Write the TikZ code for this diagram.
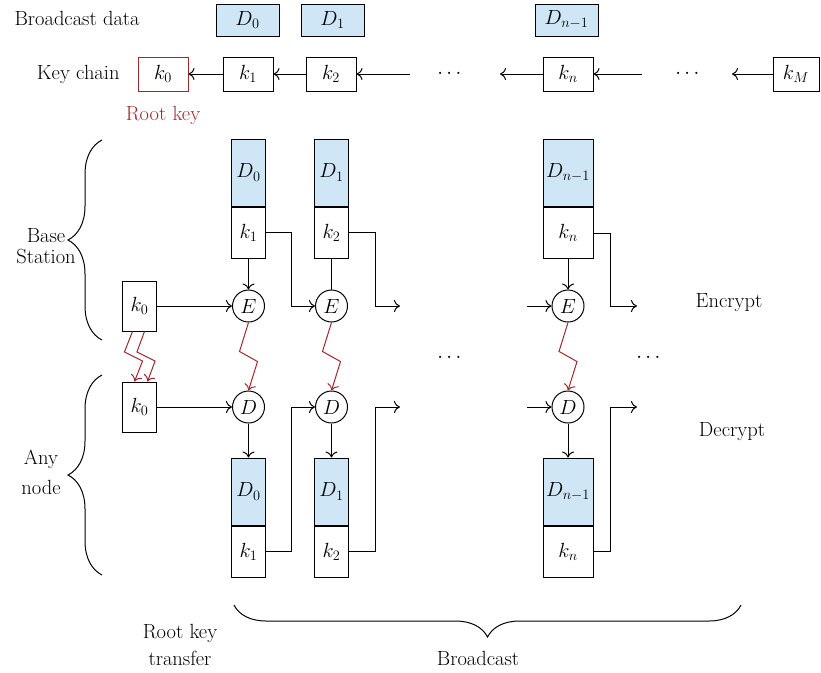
\RequirePackage{fix-cm}
\documentclass[tikz,border=0pt]{standalone}
\usepackage{amsmath,amssymb}
\usepackage{fontspec}
\usepackage{xcolor}
\definecolor{broadcastblue}{HTML}{CFE6F7}
\definecolor{rootkeyred}{HTML}{A0282D}
\usepackage{tikz}
\usetikzlibrary{%
      arrows.meta,%
      calc,%
      decorations.pathreplacing,%
  positioning%
  }
\tikzset{
  >={To[length=6pt,width=12pt]},
  wire/.style={line width=1pt},
  keybox/.style={draw, line width=1pt, minimum width=50pt, minimum height=34pt, inner sep=2pt},
  databox/.style={draw, line width=1pt, fill=broadcastblue, minimum width=63pt, minimum height=32pt, inner sep=2pt},
  stackdata/.style={draw, line width=1pt, fill=broadcastblue, minimum height=67pt, inner sep=1pt},
  stackkey/.style={draw, line width=1pt, minimum height=51pt, inner sep=1pt},
  cipher/.style={draw, circle, line width=1pt, minimum size=32pt, inner sep=0pt},
  bolt/.style={rootkeyred, line width=1pt, ->,
    to path={-- ($(\tikztostart)!.47!(\tikztotarget)+(-9,-3)$)
             -- ($(\tikztostart)!.53!(\tikztotarget)+(9,3)$) -- (\tikztotarget)}},
  curly/.style={decorate, line width=1pt, decoration={brace, amplitude=#1}},
}

\begin{document}
\begin{tikzpicture}[x=1pt, y=-1pt, font=\fontsize{20.5}{21}\selectfont]
    \useasboundingbox (0,0) rectangle (821,672);
    % data and key chain on top
    \node[anchor=west] (bcast) at (11,18) {Broadcast data};
    \node[databox] (data0) at (247.5,20) {$D_0$};
    \node[databox] (data1) at (332.5,20) {$D_1$};
    \node[databox] (datan) at (566.5,20) {$D_{n-1}$};

    \node[anchor=east] (chain) at (123,74) {Key chain};
    \node[keybox, draw=rootkeyred] (ck0) at (163,74) {$k_0$};
    \node[keybox] (ck1) at (248,74) {$k_1$};
    \node[keybox] (ck2) at (331,74) {$k_2$};
    \node[keybox] (ckn) at (568,74) {$k_n$};
    \node[keybox, minimum width=46pt] (ckM) at (796,74) {$k_M$};
    \node (cdots1) at (451,74) {$\cdots$};
    \node (cdots2) at (689,74) {$\cdots$};
    \coordinate (cIn2) at (410,74);
    \coordinate (cOutn) at (500,74);
    \coordinate (cInn) at (642,74);
    \coordinate (cOutM) at (732,74);
    \draw[wire,->] (ck1) -- (ck0);
    \draw[wire,->] (ck2) -- (ck1);
    \draw[wire,->] (cIn2) -- (ck2);
    \draw[wire,->] (ckn) -- (cOutn);
    \draw[wire,->] (cInn) -- (ckn);
    \draw[wire,->] (ckM) -- (cOutM);
    \node[text=rootkeyred] (rootkey) at (163,115) {Root key};

    % base station: encrypt
    \node[stackdata, minimum width=34pt] (bD0) at (248.5,172.5) {$D_0$};
    \node[stackkey, minimum width=34pt, below=0pt of bD0] (bk1) {$k_1$};
    \node[stackdata, minimum width=34pt] (bD1) at (331.5,172.5) {$D_1$};
    \node[stackkey, minimum width=34pt, below=0pt of bD1] (bk2) {$k_2$};
    \node[stackdata, minimum width=50pt] (bDn) at (568,173) {$D_{n-1}$};
    \node[stackkey, minimum width=50pt, below=0pt of bDn] (bkn) {$k_n$};

    \node[keybox, minimum width=34pt, minimum height=50pt] (kB0) at (139.5,306) {$k_0$};
    \node[cipher] (enc1) at (248.5,306) {$E$};
    \node[cipher] (enc2) at (331.5,306) {$E$};
    \node[cipher] (enc3) at (568,306) {$E$};
    \draw[wire,->] (kB0) -- (enc1);
    \draw[wire,->] (bk1) -- (enc1);
    \draw[wire] (bk2) -- (enc2);
    \draw[wire,->] (bkn) -- (enc3);
    \draw[wire,->] (bk1.east) -- ++(25,0) |- (enc2);
    \coordinate (bOut2) at (400,306);
    \draw[wire,->] (bk2.east) -- ++(26,0) |- (bOut2);
    \coordinate (bIn3) at (527,306);
    \draw[wire,->] (bIn3) -- (enc3);
    \coordinate (bOut3) at (637,306);
    \draw[wire,->] (bkn.east) -- ++(17,0) |- (bOut3);
    \node (encrypt) at (729,303) {Encrypt};

    \node (mdots1) at (451,358) {$\cdots$};
    \node (mdots2) at (650,358) {$\cdots$};

    % any node: decrypt
    \node[keybox, minimum width=34pt, minimum height=50pt] (kN0) at (139.5,407) {$k_0$};
    \node[cipher] (dec1) at (248.5,407) {$D$};
    \node[cipher] (dec2) at (331.5,407) {$D$};
    \node[cipher] (dec3) at (568,407) {$D$};
    \node[stackdata, minimum width=34pt] (nD0) at (248.5,491.5) {$D_0$};
    \node[stackkey, minimum width=34pt, below=0pt of nD0] (nk1) {$k_1$};
    \node[stackdata, minimum width=34pt] (nD1) at (331.5,491.5) {$D_1$};
    \node[stackkey, minimum width=34pt, below=0pt of nD1] (nk2) {$k_2$};
    \node[stackdata, minimum width=50pt] (nDn) at (568,491.5) {$D_{n-1}$};
    \node[stackkey, minimum width=50pt, below=0pt of nDn] (nkn) {$k_n$};
    \draw[wire,->] (kN0) -- (dec1);
    \draw[wire,->] (dec1) -- (nD0);
    \draw[wire,->] (dec2) -- (nD1);
    \draw[wire,->] (dec3) -- (nDn);
    \draw[wire,->] (nk1.east) -- ++(25,0) |- (dec2);
    \coordinate (nOut2) at (400,407);
    \draw[wire,->] (nk2.east) -- ++(26,0) |- (nOut2);
    \coordinate (nIn3) at (527,407);
    \draw[wire,->] (nIn3) -- (dec3);
    \coordinate (nOut3) at (637,407);
    \draw[wire,->] (nkn.east) -- ++(17,0) |- (nOut3);
    \node (decrypt) at (732,432) {Decrypt};

    % radio links
    \draw[bolt] (enc1.south) to (dec1.north);
    \draw[bolt] (enc2.south) to (dec2.north);
    \draw[bolt] (enc3.south) to (dec3.north);
    \coordinate (kOutA) at ([xshift=-7pt]kB0.south);
    \coordinate (kOutB) at ([xshift=5pt]kB0.south);
    \coordinate (kInA) at ([xshift=-5pt]kN0.north);
    \coordinate (kInB) at ([xshift=8pt]kN0.north);
    \draw[bolt] (kOutA) to (kInA);
    \draw[bolt] (kOutB) to (kInB);

    % braces
    \draw[curly=34pt] (102,340) -- (102,140);
    \node[align=center] (baselbl) at (46,246) {Base\\Station};
    \draw[curly=34pt] (102,575) -- (102,375);
    \node[align=center] (anylbl) at (41,472) {Any\\[9pt]node};
    \draw[curly=32pt] (741,605) -- (234,605);
    \node (bcastlbl) at (478,658) {Broadcast};
    \node[align=center] (transferlbl) at (180,645) {Root key\\[6pt]transfer};
\end{tikzpicture}
\end{document}
